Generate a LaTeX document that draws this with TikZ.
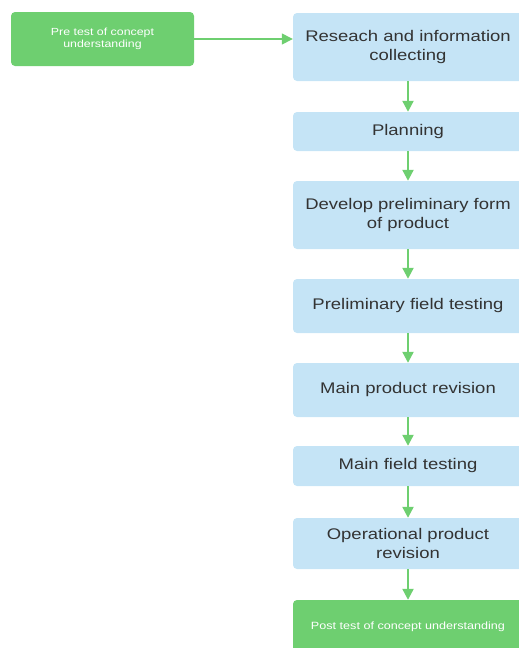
\documentclass[tikz,border=0pt]{standalone}
\usepackage{fontspec}
\setmainfont{Liberation Sans}[FakeStretch=1.2]
\usetikzlibrary{arrows.meta}
\definecolor{gbox}{HTML}{6ECF70}
\definecolor{bbox}{HTML}{C5E4F6}
\definecolor{txt}{HTML}{333333}
\tikzset{
  stepbox/.style={fill=bbox, rounded corners=4pt, minimum width=230pt, align=center, text=txt, font=\fontsize{15.4}{19}\selectfont, inner sep=0pt},
  greenbox/.style={fill=gbox, rounded corners=4pt, align=center, text=white, font=\fontsize{10.3}{12.5}\selectfont, inner sep=0pt},
  flow/.style={draw=gbox, line width=2.2pt, -{Triangle[length=11pt,width=11pt]}}
}
\begin{document}
\begin{tikzpicture}[x=1pt,y=-1pt]
\useasboundingbox (0,0) rectangle (519,648);
\clip (0,0) rectangle (519,648);
\node[greenbox, minimum width=183pt, minimum height=54pt] (pre) at (102.5,39) {Pre test of concept\\understanding};
\node[stepbox, minimum height=68pt] (s1) at (408,47) {Reseach and information\\collecting};
\node[stepbox, minimum height=39pt] (s2) at (408,131.5) {Planning};
\node[stepbox, minimum height=68pt] (s3) at (408,215) {Develop preliminary form\\of product};
\node[stepbox, minimum height=54pt] (s4) at (408,306) {Preliminary field testing};
\node[stepbox, minimum height=54pt] (s5) at (408,390) {Main product revision};
\node[stepbox, minimum height=40pt] (s6) at (408,466) {Main field testing};
\node[stepbox, minimum height=51pt] (s7) at (408,543.5) {Operational product\\revision};
\node[greenbox, minimum width=230pt, minimum height=54pt, font=\fontsize{10.5}{12}\selectfont] (post) at (408,627) {Post test of concept understanding};
\draw[flow, line width=1.4pt] (pre.east) -- (pre.east -| s1.west);
\draw[flow] (s1) -- (s2);
\draw[flow] (s2) -- (s3);
\draw[flow] (s3) -- (s4);
\draw[flow] (s4) -- (s5);
\draw[flow] (s5) -- (s6);
\draw[flow] (s6) -- (s7);
\draw[flow] (s7) -- (post);
\end{tikzpicture}
\end{document}
